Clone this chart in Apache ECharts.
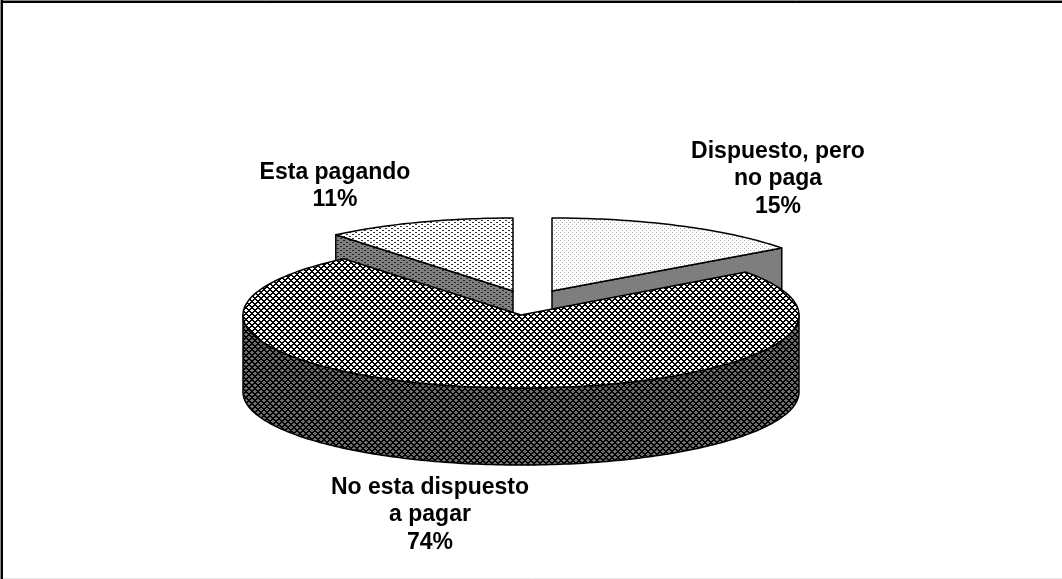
<!DOCTYPE html>
<html>
<head>
<meta charset="utf-8">
<title>Pie</title>
<style>
html,body{margin:0;padding:0;background:#fff;}
#wrap{width:1062px;height:579px;}
</style>
<script src="https://cdn.jsdelivr.net/npm/echarts@6/dist/echarts.min.js"></script>
</head>
<body>
<div id="wrap"></div>
<script>
var categories = ["Dispuesto, pero\nno paga", "No esta dispuesto\na pagar", "Esta pagando"];
var shares = [15, 74, 11];

// pie layout
var cx = 521, cy = 315, ry = 73, depth = 77;
var radiusX = [284, 278, 278];
var explode = [[31, -24], [0, 0], [-8, -24]];
var labelPos = [[778, 179], [430, 515], [335, 186]];
var drawOrder = [1, 3, 2]; // z2 base, the big slice goes on top

var tileMain = ["##..##", "#....#", "##..##", ".####.", "..##..", ".####."];
var tileWave = [".##...", "......", "....##", "......"];
var tileDots = ["#...", "....", "..#.", "...."];

function makeTile(rows, ink, paper){
	var c = document.createElement("canvas");
	c.width = rows[0].length;
	c.height = rows.length;
	var ctx = c.getContext("2d");
	ctx.fillStyle = paper;
	ctx.fillRect(0, 0, c.width, c.height);
	ctx.fillStyle = ink;
	for(var y = 0; y < rows.length; y++){
		for(var x = 0; x < rows[y].length; x++){
			if(rows[y][x] == "#") ctx.fillRect(x, y, 1, 1);
		}
	}
	return {image: c, repeat: "repeat"};
}

var topFill = [makeTile(tileDots, "#a8a8a8", "#ffffff"), makeTile(tileMain, "#000000", "#ffffff"), makeTile(tileWave, "#333333", "#ffffff")];
var wallFill = [makeTile(tileDots, "#8c8c8c", "#7c7c7c"), makeTile(tileMain, "#000000", "#6e6e6e"), makeTile(tileWave, "#222222", "#808080")];

var total = shares.reduce(function(a, b){ return a + b; }, 0);

function rim(px, py, rx, deg){
	var t = deg * Math.PI / 180;
	return [px + rx * Math.sin(t), py - ry * Math.cos(t)];
}

function renderSlice(params, api){
	var i = params.dataIndex;
	var before = 0;
	for(var k = 0; k < i; k++) before += shares[k];
	var start = before / total * 360;
	var end = (before + api.value(0)) / total * 360;
	var px = cx + explode[i][0], py = cy + explode[i][1], rx = radiusX[i];
	var z = drawOrder[i] * 10;
	var line = {stroke: "#000", lineWidth: 1.5, lineJoin: "round"};
	var kids = [];

	function poly(points, fill, zz){
		kids.push({type: "polygon", z2: z + zz, shape: {points: points}, style: Object.assign({fill: fill}, line)});
	}

	// outer wall, only the part facing the viewer
	var a0 = Math.max(start, 90), a1 = Math.min(end, 270);
	if(a1 > a0){
		var up = [], down = [];
		for(var d = a0; d < a1; d++){
			up.push(rim(px, py, rx, d));
			down.unshift(rim(px, py + depth, rx, d));
		}
		up.push(rim(px, py, rx, a1));
		down.unshift(rim(px, py + depth, rx, a1));
		poly(up.concat(down), wallFill[i], 0);
	}
	// cut faces
	[[start, Math.sin(start * Math.PI / 180) < -0.001], [end, Math.sin(end * Math.PI / 180) > 0.001]].forEach(function(cut){
		if(!cut[1]) return;
		var p = rim(px, py, rx, cut[0]), q = rim(px, py + depth, rx, cut[0]);
		poly([[px, py], p, q, [px, py + depth]], wallFill[i], 1);
	});
	// top face
	var face = [[px, py]];
	for(var e = start; e < end; e++) face.push(rim(px, py, rx, e));
	face.push(rim(px, py, rx, end));
	poly(face, topFill[i], 2);

	kids.push({
		type: "text",
		z2: 100,
		x: labelPos[i][0],
		y: labelPos[i][1],
		style: {
			text: categories[i] + "\n" + api.value(0) + "%",
			fill: "#000",
			font: "bold 23px 'Liberation Sans', Arial, sans-serif",
			lineHeight: 27.5,
			align: "center",
			verticalAlign: "middle"
		}
	});
	return {type: "group", children: kids};
}

var myChart = echarts.init(document.getElementById("wrap"), null, {renderer: "canvas"});
myChart.setOption({
	animation: false,
	backgroundColor: "#fff",
	graphic: [
		{type: "line", shape: {x1: 0, y1: 0.5, x2: 1062, y2: 0.5}, style: {stroke: "#8a8a8a", lineWidth: 1}},
		{type: "line", shape: {x1: 0, y1: 2, x2: 1062, y2: 2}, style: {stroke: "#000", lineWidth: 2}},
		{type: "line", shape: {x1: 0.5, y1: 0, x2: 0.5, y2: 579}, style: {stroke: "#8a8a8a", lineWidth: 1}},
		{type: "line", shape: {x1: 2, y1: 0, x2: 2, y2: 579}, style: {stroke: "#000", lineWidth: 2}},
		{type: "line", shape: {x1: 3, y1: 578.5, x2: 1062, y2: 578.5}, style: {stroke: "#e6e6e6", lineWidth: 1}}
	],
	series: [{
		type: "custom",
		coordinateSystem: "none",
		silent: true,
		renderItem: renderSlice,
		data: shares.map(function(v){ return [v]; })
	}]
});
</script>
</body>
</html>
